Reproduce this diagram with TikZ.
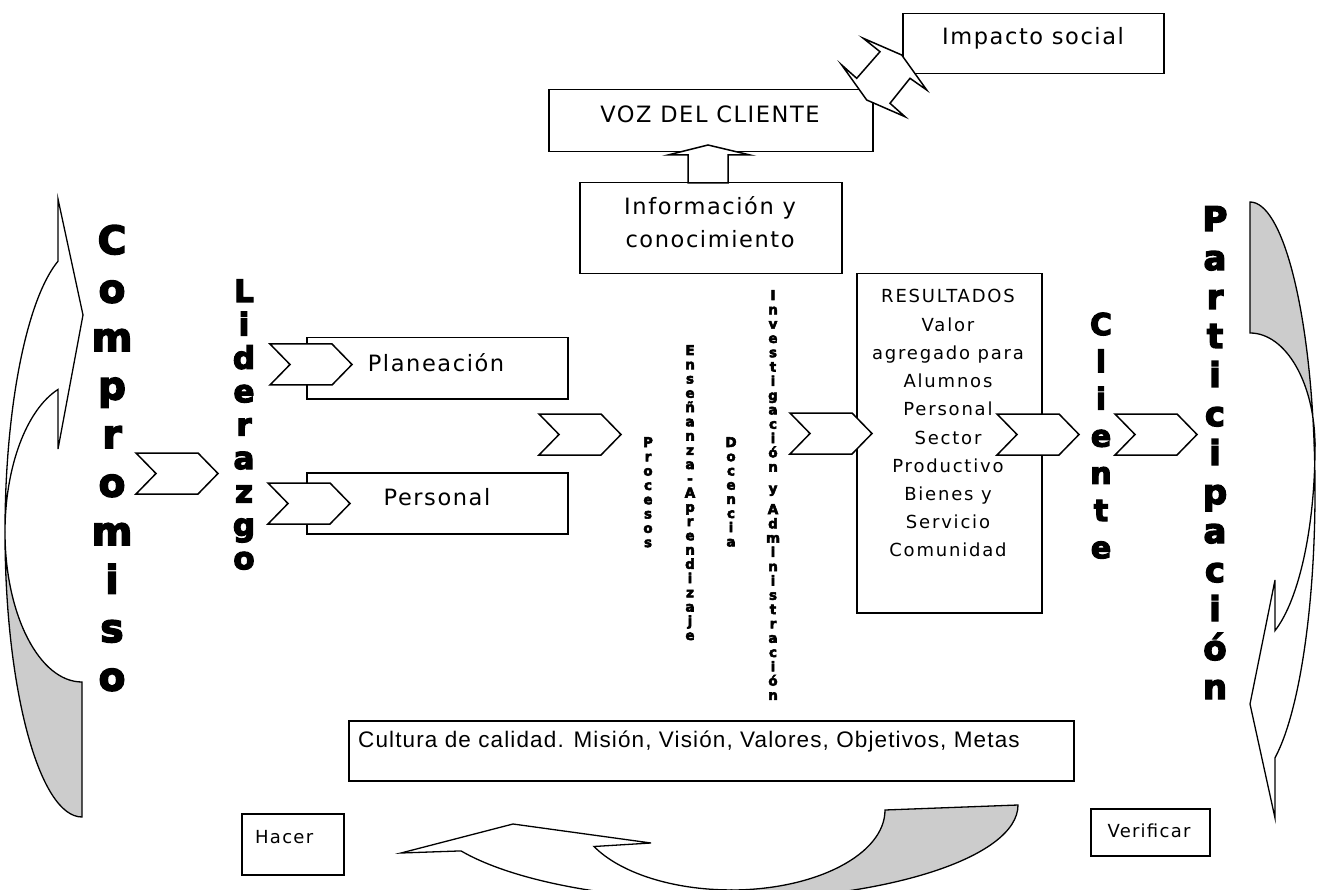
\documentclass[tikz,border=0pt]{standalone}
\usepackage{fontspec}
\setmainfont{DejaVu Sans}[LetterSpace=7]
\newfontfamily\resfont{DejaVu Sans}[LetterSpace=10]
\newfontfamily\culfont{Liberation Sans}[LetterSpace=5]
\newfontfamily\heavy{DejaVu Sans Bold}[FakeBold=4]
\newcommand\VStack[5]{\foreach \c [count=\i from 0] in {#5}{\node[anchor=base, inner sep=0pt] (#1\i) at (#2,{#3+\i*#4}) {\c};}}
\tikzset{chevron/.pic={\draw[line width=1.5pt, fill=white, line join=miter] (0,0) -- (62,0) -- (82,20.5) -- (62,41) -- (0,41) -- (20,20.5) -- cycle;}}
\begin{document}
\begin{tikzpicture}[x=1pt,y=-1pt,
  box/.style={draw, line width=1.5pt, fill=white, inner sep=0pt, anchor=north west},
  lbl/.style={anchor=base, inner sep=0pt},
  band/.style={draw, line width=1.3pt, line join=miter},
  shadegray/.style={fill=black!20}]
\useasboundingbox (0,0) rectangle (1317,890);
\clip (0,0) rectangle (1317,890);
\fill[white] (0,0) rectangle (1317,890);

% boxes
\node[box, minimum width=261pt, minimum height=60pt] (imp) at (902,13) {};
\node[box, minimum width=324pt, minimum height=62pt] (voz) at (548,89) {};
\node[box, minimum width=262pt, minimum height=91pt] (info) at (579,182) {};
\node[box, minimum width=261pt, minimum height=61pt] (plan) at (306,337) {};
\node[box, minimum width=261pt, minimum height=61pt] (pers) at (306,472) {};
\node[box, minimum width=185pt, minimum height=339pt] (res) at (856,273) {};
\node[box, minimum width=725pt, minimum height=60pt] (cult) at (348,720) {};
\node[box, minimum width=102pt, minimum height=61pt] (hacer) at (241,813) {};
\node[box, minimum width=119pt, minimum height=47pt] (verif) at (1090,808) {};

% double arrow VOZ <-> Impacto
\draw[line width=1.5pt, fill=white, line join=miter] (863.3,38.3) -- (901.7,55) -- (926.7,90) -- (910,78.3) -- (890,103.3) -- (905,116.7) -- (866.7,100) -- (841.7,65) -- (856.7,78.3) -- (880,51.7) -- cycle;
% up arrow Informacion -> VOZ
\draw[line width=1.5pt, fill=white, line join=miter] (688,183) -- (688,155) -- (668,155) -- (708,145) -- (750,155) -- (728,155) -- (728,183) -- cycle;

% texts in boxes
\node[lbl, font=\fontsize{22.5}{27}\selectfont] (timp) at (1033,45) {Impacto social};
\node[lbl, font=\fontsize{22.5}{27}\selectfont] (tvoz) at (710,123) {VOZ DEL CLIENTE};
\node[lbl, font=\fontsize{22.5}{27}\selectfont] (tinfo1) at (710,215) {Información y};
\node[lbl, font=\fontsize{22.5}{27}\selectfont] (tinfo2) at (710,248) {conocimiento};
\node[lbl, font=\fontsize{22.5}{27}\selectfont] (tplan) at (436,372) {Planeación};
\node[lbl, font=\fontsize{22.5}{27}\selectfont] (tpers) at (437,505) {Personal};
\begin{scope}[font=\resfont\fontsize{18}{22}\selectfont]
\foreach \t [count=\i from 0] in {RESULTADOS,Valor,agregado para,Alumnos,Personal,Sector,Productivo,Bienes y,Servicio,Comunidad}
  {\node[lbl] (tres\i) at (948,{303+\i*28.2}) {\t};}
\end{scope}
\node[anchor=base west, inner sep=0pt, font=\culfont\fontsize{22.5}{27}\selectfont] (tcult) at (358,747) {Cultura de calidad. Misión, Visión, Valores, Objetivos, Metas};
\node[anchor=base west, inner sep=0pt, font=\fontsize{18}{22}\selectfont] (thacer) at (255,843) {Hacer};
\node[lbl, font=\fontsize{18}{22}\selectfont] (tverif) at (1149,837) {Verificar};

% chevrons
\pic at (136,453) {chevron};
\pic at (270,344) {chevron};
\pic at (268,483) {chevron};
\pic at (539,414) {chevron};
\pic at (790,413) {chevron};
\pic at (997,414) {chevron};
\pic at (1115,414) {chevron};

% vertical heavy words
\begin{scope}[font=\heavy\fontsize{39}{40}\selectfont]
\VStack{comp}{112}{254}{48.5}{C,o,m,p,r,o,m,i,s,o}
\end{scope}
\begin{scope}[font=\heavy\fontsize{31}{32}\selectfont]
\VStack{lid}{244}{302}{33.4}{L,i,d,e,r,a,z,g,o}
\end{scope}
\begin{scope}[font=\heavy\fontsize{30}{32}\selectfont]
\VStack{cli}{1101}{335}{37.2}{C,l,i,e,n,t,e}
\end{scope}
\begin{scope}[font=\heavy\fontsize{34}{36}\selectfont]
\VStack{par}{1215}{231}{39}{P,a,r,t,i,c,i,p,a,c,i,ó,n}
\end{scope}
\begin{scope}[font=\heavy\fontsize{13.5}{15}\selectfont]
\VStack{proc}{648}{447}{14.3}{P,r,o,c,e,s,o,s}
\VStack{ens}{690}{355}{14.25}{E,n,s,e,ñ,a,n,z,a,-,A,p,r,e,n,d,i,z,a,j,e}
\VStack{doc}{731}{447}{14.2}{D,o,c,e,n,c,i,a}
\VStack{inv}{773}{300}{14.3}{I,n,v,e,s,t,i,g,a,c,i,ó,n}
\node[anchor=base, inner sep=0pt] (invy) at (773,493) {y};
\VStack{adm}{773}{514}{14.3}{A,d,m,i,n,i,s,t,r,a,c,i,ó,n}
\end{scope}

% left curved arrow (Compromiso)
\draw[band, shadegray] (5,532) arc[start angle=180, end angle=90, x radius=77, y radius=285] -- (82,682) arc[start angle=90, end angle=180, x radius=77, y radius=150] -- cycle;
\draw[band, fill=white] (58,261.2) arc[start angle=251.84, end angle=180, x radius=77, y radius=285] arc[start angle=180, end angle=251.84, x radius=77, y radius=150] -- (58,449) -- (83,315) -- (58,199) -- cycle;

% right curved arrow (Participacion)
\draw[band, shadegray] (1250,202) arc[start angle=-90, end angle=-9, x radius=65, y radius=289] coordinate (rt) -- (1315,446) arc[start angle=0, end angle=-90, x radius=65, y radius=113] -- cycle;
\draw[band, fill=white] (1315,446) -- (rt) arc[start angle=-9, end angle=67.38, x radius=65, y radius=289] -- (1275,818) -- (1250,704) -- (1275,580) -- (1275,630.6) arc[start angle=67.38, end angle=0, x radius=65, y radius=200] -- cycle;

% bottom curved arrow
\draw[band, shadegray] (1018,805) arc[start angle=0, end angle=90, x radius=297, y radius=95] -- (731,890) arc[start angle=90, end angle=0, x radius=154, y radius=80] -- cycle;
\draw[band, fill=white] (721,900) arc[start angle=90, end angle=151.1, x radius=297, y radius=95] -- (401,853) -- (513,824) -- (651,843) -- (594,846.5) arc[start angle=152.8, end angle=90, x radius=154, y radius=80] -- cycle;
\end{tikzpicture}
\end{document}
